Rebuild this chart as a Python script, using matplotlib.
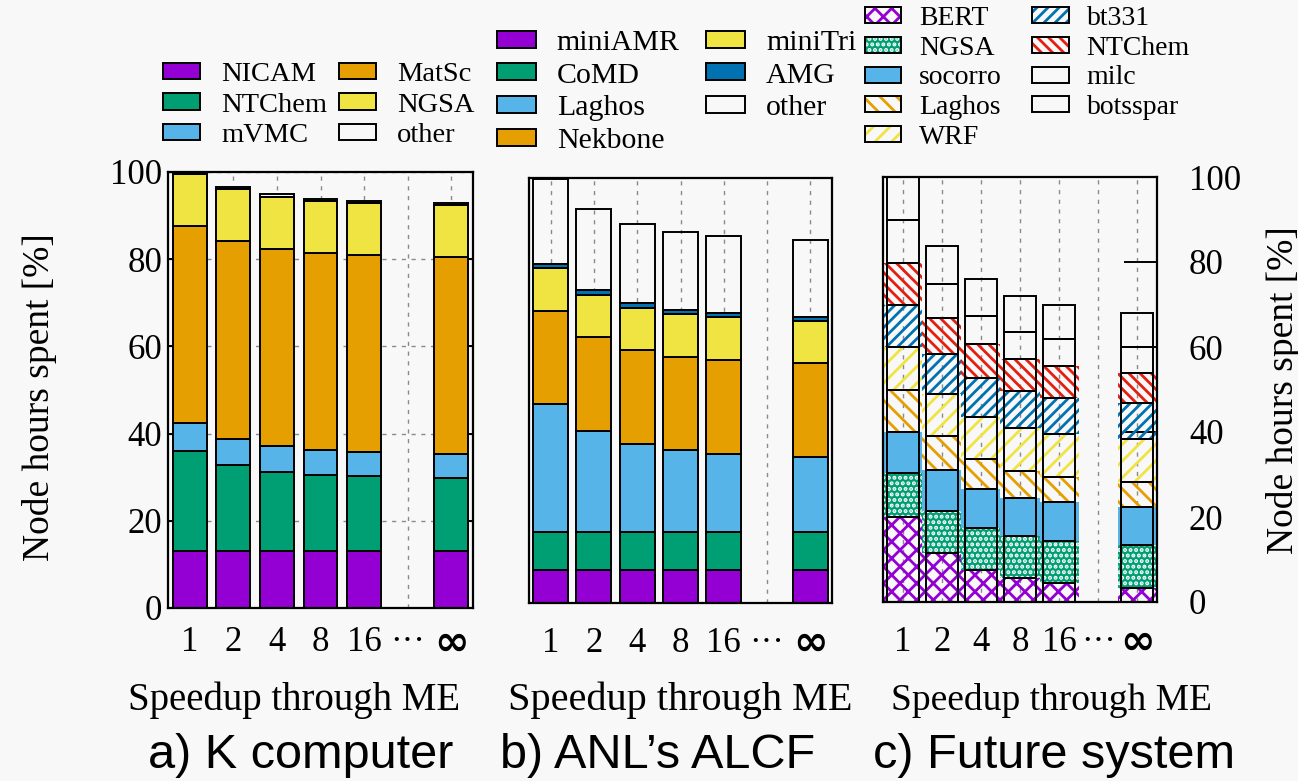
import numpy as np
import matplotlib.pyplot as plt
from matplotlib.patches import Patch

plt.rcParams['font.family'] = ['Liberation Serif', 'DejaVu Serif']
plt.rcParams['hatch.linewidth'] = 2.0

speedups = ['1', '2', '4', '8', '16', '···', '∞']
bar_pos = [0, 1, 2, 3, 4, 6]

purple = '#9400d3'
green = '#009e73'
skyblue = '#56b4e9'
orange = '#e69f00'
yellow = '#f0e442'
blue = '#0072b2'
red = '#e51e10'

# a) K computer
k_apps = ['NICAM', 'NTChem', 'mVMC', 'MatSc', 'NGSA', 'other']
k_nicam = [13.0, 13.0, 13.0, 13.0, 13.0, 13.0]
k_ntchem = [22.9, 19.9, 18.3, 17.6, 17.2, 16.8]
k_mvmc = [6.6, 5.9, 5.9, 5.7, 5.6, 5.6]
k_matsc = [45.1, 45.3, 45.1, 45.1, 45.1, 45.1]
k_ngsa = [12.0, 11.9, 12.0, 12.0, 12.1, 12.0]
k_other = [0.4, 0.5, 0.6, 0.5, 0.4, 0.5]

# b) ANL's ALCF
anl_apps = ['miniAMR', 'CoMD', 'Laghos', 'Nekbone', 'miniTri', 'AMG', 'other']
anl_miniamr = [7.8, 7.8, 7.8, 7.8, 7.8, 7.8]
anl_comd = [9.0, 9.0, 9.0, 9.0, 9.0, 9.0]
anl_laghos = [30.0, 23.7, 20.6, 19.1, 18.3, 17.6]
anl_nekbone = [22.0, 22.2, 22.1, 22.1, 22.1, 22.0]
anl_minitri = [10.0, 9.8, 10.0, 10.0, 10.0, 10.0]
anl_amg = [1.0, 1.2, 1.0, 1.0, 1.0, 1.0]
anl_other = [19.9, 19.0, 18.6, 18.4, 18.2, 18.0]

# c) Future system
fut_apps = ['BERT', 'NGSA', 'socorro', 'Laghos', 'WRF',
            'bt331', 'NTChem', 'milc', 'botsspar']
fut_bert = [20.1, 11.6, 7.5, 5.6, 4.4, 3.4]
fut_ngsa = [10.2, 9.9, 10.0, 9.9, 10.0, 10.0]
fut_socorro = [9.8, 9.6, 9.2, 9.0, 9.1, 8.9]
fut_laghos = [9.8, 8.0, 6.9, 6.3, 6.0, 5.9]
fut_wrf = [10.2, 9.8, 10.0, 10.1, 10.0, 10.1]
fut_bt331 = [9.8, 9.4, 9.0, 8.7, 8.6, 8.5]
fut_ntchem = [9.9, 8.6, 8.0, 7.6, 7.4, 7.2]
fut_milc = [10.1, 7.9, 6.8, 6.4, 6.3, 6.1]
fut_botsspar = [10.0, 9.0, 8.6, 8.4, 8.2, 8.0]

W, H = 1298, 781


def axes_px(left, right, top, bottom):
    return fig.add_axes([left / W, 1 - bottom / H, (right - left) / W, (bottom - top) / H])


def setup(ax, xpad, grid_y):
    ax.set_facecolor('none')
    ax.set_xlim(-0.5, 6.5)
    ax.set_ylim(0, 100)
    ax.set_xticks(range(7))
    ax.set_xticklabels(speedups, fontsize=25, va='center')
    inf = ax.get_xticklabels()[-1]
    inf.set_fontfamily(['DejaVu Sans'])
    inf.set_fontsize(30)
    inf.set_fontweight('bold')
    ax.tick_params(axis='x', length=0, pad=xpad)
    ax.set_axisbelow(True)
    ax.xaxis.grid(True, color='#8a8a8a', ls=(0, (3, 4)), lw=1)
    if grid_y:
        ax.yaxis.grid(True, color='#8a8a8a', ls=(0, (3, 4)), lw=1)
    for s in ax.spines.values():
        s.set_linewidth(1.6)


def stack(ax, series, colors, width):
    bottom = np.zeros(len(bar_pos))
    handles = []
    for vals, c in zip(series, colors):
        b = ax.bar(bar_pos, vals, width, bottom=bottom, color=c,
                   edgecolor='black', linewidth=1.4)
        handles.append(b)
        bottom += np.array(vals)
    return handles


fig = plt.figure(figsize=(W / 100, H / 100), dpi=100)
fig.patch.set_facecolor('#f8f8f8')

# ---- a) K computer
ax1 = axes_px(168, 473, 172, 608)
setup(ax1, 25, True)
h1 = stack(ax1, [k_nicam, k_ntchem, k_mvmc, k_matsc, k_ngsa, k_other],
           [purple, green, skyblue, orange, yellow, 'none'], 0.78)
ax1.set_yticks([0, 20, 40, 60, 80, 100])
ax1.tick_params(axis='y', direction='in', length=4, width=1.4, labelsize=25,
                right=True, pad=4)
ax1.set_ylabel('Node hours spent [%]', fontsize=27, va='center')
ax1.yaxis.set_label_coords(-0.42, 0.484)
ax1.set_xlabel('Speedup through ME', fontsize=28, va='center')
ax1.xaxis.set_label_coords(0.413, -0.211)
ax1.legend(h1, k_apps, loc='upper left', bbox_to_anchor=(163 / W, 1 - 62 / H),
           bbox_transform=fig.transFigure, ncol=2, frameon=False, fontsize=20.5,
           handlelength=1.3, handleheight=0.5, handletextpad=0.75,
           columnspacing=0.4, labelspacing=0.2, borderpad=0, borderaxespad=0)

# ---- b) ANL's ALCF
ax2 = axes_px(529, 832, 178, 603)
setup(ax2, 29, False)
h2 = stack(ax2, [anl_miniamr, anl_comd, anl_laghos, anl_nekbone, anl_minitri,
                 anl_amg, anl_other],
           [purple, green, skyblue, orange, yellow, blue, 'none'], 0.81)
ax2.set_yticks([])
ax2.set_xlabel('Speedup through ME', fontsize=29, va='center')
ax2.xaxis.set_label_coords(0.498, -0.228)
ax2.legend(h2, anl_apps, loc='upper left', bbox_to_anchor=(497 / W, 1 - 30 / H),
           bbox_transform=fig.transFigure, ncol=2, frameon=False, fontsize=21.5,
           handlelength=1.3, handleheight=0.5, handletextpad=0.7,
           columnspacing=0.9, labelspacing=0.22, borderpad=0, borderaxespad=0)

# ---- c) Future system
ax3 = axes_px(883, 1157, 177, 602)
setup(ax3, 29, False)
fut_series = [fut_bert, fut_ngsa, fut_socorro, fut_laghos, fut_wrf,
              fut_bt331, fut_ntchem, fut_milc, fut_botsspar]
fut_face = ['none', green, skyblue, 'none', 'none', 'none', 'none', 'none', 'none']
fut_hcol = [purple, 'white', skyblue, orange, yellow, blue, red, 'none', 'none']
fut_hatch = ['xx', '...', None, '\\\\', '//', '///', '\\\\\\', None, None]
bottom = np.zeros(len(bar_pos))
h3 = []
for vals, fc, hc, ht in zip(fut_series, fut_face, fut_hcol, fut_hatch):
    if fc != 'none' or ht:
        ax3.bar(bar_pos, vals, 1.0, bottom=bottom, facecolor=fc, edgecolor=hc,
                hatch=ht, linewidth=0)
    ax3.bar(bar_pos, vals, 0.82, bottom=bottom, facecolor='none',
            edgecolor='black', linewidth=1.4)
    bottom += np.array(vals)
    fill = Patch(facecolor=fc, edgecolor=hc, hatch=ht, linewidth=0)
    box = Patch(facecolor='none', edgecolor='black', linewidth=1.4)
    h3.append((fill, box))
ax3.set_yticks([0, 20, 40, 60, 80, 100])
ax3.yaxis.tick_right()
ax3.tick_params(axis='y', direction='in', length=24, width=1.4, labelsize=25,
                left=False, right=True, labelleft=False, labelright=True, pad=23)
ax3.yaxis.set_label_position('right')
ax3.set_ylabel('Node hours spent [%]', fontsize=27, va='center')
ax3.yaxis.set_label_coords(1.46, 0.499)
ax3.set_xlabel('Speedup through ME', fontsize=27, va='center')
ax3.xaxis.set_label_coords(0.613, -0.231)
ax3.legend(h3, fut_apps, loc='upper left', bbox_to_anchor=(865 / W, 1 - 6 / H),
           bbox_transform=fig.transFigure, ncol=2, frameon=False, fontsize=20,
           handlelength=1.3, handleheight=0.5, handletextpad=0.65,
           columnspacing=1.1, labelspacing=0.17, borderpad=0, borderaxespad=0)

title_font = dict(family=['Liberation Sans', 'DejaVu Sans'], fontsize=35,
                  ha='center', va='center')
fig.text(301 / W, 1 - 755 / H, 'a) K computer', **title_font)
fig.text(658 / W, 1 - 755 / H, 'b) ANL’s ALCF', **title_font)
fig.text(1054 / W, 1 - 755 / H, 'c) Future system', **title_font)

fig.savefig('out.png', dpi=100, facecolor=fig.get_facecolor())
